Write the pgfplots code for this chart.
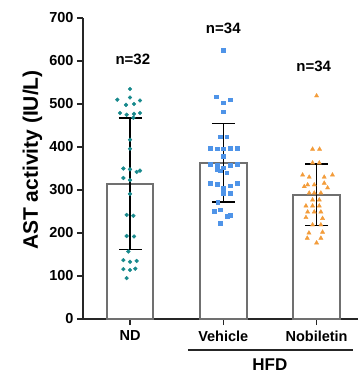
\documentclass[border=0pt]{standalone}
\usepackage{pgfplots}
\pgfplotsset{compat=1.18}
\usepackage{fontspec}
\setmainfont{Liberation Sans}
\definecolor{ndc}{HTML}{17898C}
\definecolor{vehc}{HTML}{4F94E8}
\definecolor{nobc}{HTML}{F39C3A}
\definecolor{barc}{HTML}{707070}
\begin{document}
\begin{tikzpicture}
\path[use as bounding box] (-83pt,-55pt) rectangle (276pt,319pt);
\begin{axis}[
  at={(0,0)}, anchor=south west,
  scale only axis, width=275pt, height=301pt,
  xmin=-0.504, xmax=2.444, ymin=0, ymax=700,
  axis x line*=bottom, axis y line*=left,
  axis line style={-, line width=1.5pt, black!85},
  every tick/.style={line width=1.3pt, black!85},
  tick align=outside, major tick length=6pt,
  ytick={0,100,...,700},
  xtick={0,1,2}, xticklabels={ND,Vehicle,Nobiletin},
  /pgf/number format/assume math mode=true,
  tick label style={font=\fontsize{14.5}{16}\selectfont\bfseries},
  xticklabel style={yshift=-2pt},
  ylabel={AST activity (IU/L)},
  ylabel style={font=\fontsize{21}{24}\selectfont\bfseries, at={(axis description cs:-0.184,0.528)}, anchor=center},
  clip=false,
]
% bars
\addplot[ybar, bar width=0.5, bar shift=0pt, draw=barc, fill=white, line width=2.2pt]
  coordinates {(0,314.5) (1,363.5) (2,288.5)};
% error bars
\addplot[draw=none, mark=none, forget plot,
  error bars/.cd, y dir=both, y explicit,
  error bar style={draw=black, line width=1.6pt},
  error mark options={draw=black, rotate=90, mark size=11.5pt, line width=1.6pt}]
  coordinates {(0,314.5) +- (0,152.5) (1,363.5) +- (0,91.5) (2,288.5) +- (0,71.5)};
% ND points
\addplot[only marks, mark=*, mark size=1.9pt, ndc, mark options={draw=ndc, fill=ndc}]
  coordinates {
  (0,535) (-0.136,510) (0,515) (0.107,508) (-0.043,498) (0.043,500)
  (-0.107,479) (-0.036,475) (0.043,477) (0.107,479) (0.036,468)
  (0,417) (0,396)
  (-0.071,350) (0,348) (0.071,342) (0.107,345)
  (-0.071,328) (0,323)
  (0,291)
  (-0.036,242) (0.036,240)
  (-0.036,193) (0.043,192)
  (-0.018,157)
  (-0.071,137) (0,133) (0.071,135)
  (-0.071,116) (0,114) (0.057,117)
  (-0.036,95)};
% Vehicle points
\addplot[only marks, mark=square*, mark size=1.9pt, vehc, mark options={draw=vehc, fill=vehc}]
  coordinates {
  (1,626)
  (0.925,517) (1,503) (1.075,510)
  (1,482)
  (0.964,424) (1.036,424)
  (0.86,398) (0.932,396) (1,396) (1.075,398) (1.146,398)
  (1,378)
  (0.86,360) (0.932,357) (1,352) (1.075,357) (1.146,360)
  (0.964,345) (1.036,340) (0.932,347)
  (0.86,316) (0.932,314) (1,305) (1.075,310) (1.146,316)
  (1,293) (1.075,292)
  (0.968,254) (0.9,250)
  (1.04,239) (1.075,241)
  (0.968,223) (0.94,272)};
% Nobiletin points
\addplot[only marks, mark=triangle*, mark size=2.4pt, nobc, mark options={draw=nobc, fill=nobc}]
  coordinates {
  (2,519)
  (1.957,395) (2.032,395)
  (1.957,363) (2.029,363)
  (1.85,335) (1.921,330) (2.082,330) (2.17,335)
  (1.868,308) (1.904,312) (1.975,312) (2.082,316) (2.118,305)
  (1.921,293) (1.975,293) (2.046,293)
  (1.957,277) (2.029,277)
  (1.886,263) (1.957,263) (2.029,263)
  (1.904,249) (1.975,249) (2.046,249)
  (1.886,236) (2.064,234)
  (1.957,219) (2.046,219)
  (1.918,200) (2.064,202)
  (1.9,188) (2.046,188)
  (2,177)};
% n labels
\node[font=\fontsize{15}{17}\selectfont\bfseries] at (axis cs:0.03,603) {n=32};
\node[font=\fontsize{15}{17}\selectfont\bfseries] at (axis cs:1,677) {n=34};
\node[font=\fontsize{15}{17}\selectfont\bfseries] at (axis cs:1.97,587) {n=34};
% HFD bracket
\draw[line width=1.5pt, black!85] (axis cs:0.62,-72) -- (axis cs:2.39,-72);
\node[font=\fontsize{17}{19}\selectfont\bfseries] at (axis cs:1.5,-106) {HFD};
\end{axis}
\end{tikzpicture}
\end{document}
